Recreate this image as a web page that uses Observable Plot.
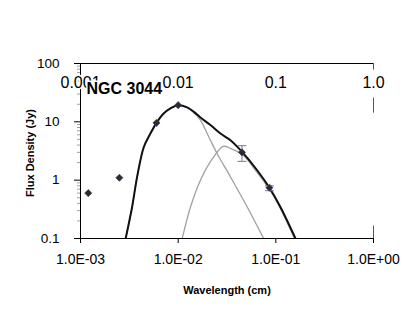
<!DOCTYPE html>
<html><head><meta charset="utf-8">
<script src="https://cdn.jsdelivr.net/npm/d3@7"></script>
<script src="https://cdn.jsdelivr.net/npm/@observablehq/plot@0.6"></script>
<style>body{margin:0;background:#fff}</style>
</head><body><div id="chart"></div>
<script>
const title = "NGC 3044";
const xLabel = "Wavelength (cm)";
const yLabel = "Flux Density (Jy)";
const xTicks = [0.001, 0.01, 0.1, 1];
const xTickLabels = ["1.0E-03", "1.0E-02", "1.0E-01", "1.0E+00"];
const topTickLabels = ["0.001", "0.01", "0.1", "1.0"];
const yTicks = [0.1, 1, 10, 100];
const yTickLabels = ["0.1", "1", "10", "100"];
const yMinor = [0.2,0.3,0.4,0.5,0.6,0.7,0.8,0.9,2,3,4,5,6,7,8,9,20,30,40,50,60,70,80,90];

// observed points
const obsLambda = [0.0012, 0.0025, 0.0060, 0.0100, 0.045, 0.086];
const obsFlux   = [0.60, 1.10, 9.6, 19.3, 3.0, 0.74];
const errLambda = [0.045, 0.086];
const errLow    = [2.1, 0.66];
const errHigh   = [3.9, 0.80];

// total model (black)
const totLambda = [0.0029,0.00338,0.0038,0.00445,0.0052,0.006,0.0071,0.00834,0.01,0.01236,0.0145,0.0169,0.0214,0.0271,0.0343,0.0435,0.0644,0.086,0.111,0.159];
const totFlux   = [0.1,0.35,1.14,3.7,6.3,9.6,13.9,17,19.2,17.7,14.8,11.9,8.8,6.3,4.85,3.27,1.48,0.74,0.35,0.1];
// warm component (gray)
const warmLambda = [0.0029,0.00338,0.0038,0.00445,0.0052,0.006,0.0071,0.00834,0.01,0.01236,0.0145,0.0169,0.0206,0.025,0.0343,0.0508,0.075];
const warmFlux   = [0.1,0.35,1.14,3.7,6.3,9.6,13.9,17,19.2,17.5,14.3,10.7,5.5,2.87,1.14,0.35,0.1];
// cold component (gray)
const coldLambda = [0.011,0.0134,0.0169,0.0231,0.029,0.0343,0.045,0.0644,0.086,0.111,0.155];
const coldFlux   = [0.1,0.35,1.0,2.5,3.8,3.5,2.8,1.35,0.7,0.33,0.1];

// right-edge segments visible in the reference
const rightSeg1 = [77, 14.1, 0.1];
const rightSeg2 = [100, 25.5, 0.163];

const pts = (xs, ys) => xs.map((x, i) => ({x, y: ys[i]}));
const obs = pts(obsLambda, obsFlux);
const err = errLambda.map((x, i) => ({x, lo: errLow[i], hi: errHigh[i]}));
const tot = pts(totLambda, totFlux);
const warm = pts(warmLambda, warmFlux);
const cold = pts(coldLambda, coldFlux);
const rseg = rightSeg1.map((a, i) => ({a, b: rightSeg2[i]}));

const capSymbol = {draw(ctx, size){ const r = Math.sqrt(size); ctx.moveTo(-r,0); ctx.lineTo(r,0);} };

const chart = Plot.plot({
  width: 409, height: 314,
  marginLeft: 80, marginRight: 36, marginTop: 63, marginBottom: 76,
  style: {fontFamily: "'Liberation Sans', Arial, sans-serif", fontSize: "13px", background: "#fff", color: "#000"},
  x: {type: "log", domain: [0.001, 1]},
  y: {type: "log", domain: [0.1, 100]},
  marks: [
    Plot.axisY(yMinor, {tickSize: 3, tickFormat: () => "", stroke: "#888", strokeWidth: 0.8, label: null}),
    Plot.axisY(yTicks, {tickSize: 6, tickPadding: 15, fontSize: 13.5, tickFormat: d => yTickLabels[yTicks.indexOf(d)], label: null}),
    Plot.axisX(xTicks, {tickSize: 5, tickPadding: 11, fontSize: 14, tickFormat: d => xTickLabels[xTicks.indexOf(d)], label: null}),
    Plot.ruleX([0.001], {y1: 0.1, y2: 100, stroke: "#000", strokeWidth: 1}),
    Plot.ruleY([0.1], {x1: 0.001, x2: 1, stroke: "#000", strokeWidth: 1.2}),
    Plot.ruleY([100], {x1: 0.001, x2: 1, stroke: "#000", strokeWidth: 1.2}),
    Plot.ruleX(rseg, {x: () => 1, y1: "a", y2: "b", stroke: "#555", strokeWidth: 1}),
    Plot.line(warm, {x: "x", y: "y", stroke: "#a0a0a0", strokeWidth: 1.3, curve: "catmull-rom", clip: true}),
    Plot.line(cold, {x: "x", y: "y", stroke: "#a0a0a0", strokeWidth: 1.3, curve: "catmull-rom", clip: true}),
    Plot.line(tot, {x: "x", y: "y", stroke: "#111", strokeWidth: 2, curve: "catmull-rom", clip: true}),
    Plot.ruleX(err, {x: "x", y1: "lo", y2: "hi", stroke: "#778", strokeWidth: 1}),
    Plot.dot(err, {x: "x", y: "lo", symbol: capSymbol, r: 2.5, stroke: "#778", strokeWidth: 1}),
    Plot.dot(err, {x: "x", y: "hi", symbol: capSymbol, r: 2.5, stroke: "#778", strokeWidth: 1}),
    Plot.dot(obs, {x: "x", y: "y", symbol: "diamond2", r: 3.2, fill: "#2e2e18", stroke: "#3b3b8a", strokeWidth: 0.8}),
    Plot.text(xTicks, {x: d => d, y: () => 100, text: d => topTickLabels[xTicks.indexOf(d)], dy: 19, fontSize: 16, stroke: "white", strokeWidth: 3, fill: "#000"}),
    Plot.text([title], {frameAnchor: "top-left", text: d => d, dx: 6, dy: 19, textAnchor: "start", fontSize: 16, fontWeight: "bold", stroke: "white", strokeWidth: 3, fill: "#000"}),
    Plot.text([xLabel], {frameAnchor: "bottom", text: d => d, dy: 52, lineAnchor: "middle", fontSize: 11, fontWeight: "bold", fill: "#000"}),
    Plot.text([yLabel], {frameAnchor: "left", text: d => d, dx: -50, dy: 2, rotate: -90, textAnchor: "middle", lineAnchor: "middle", fontSize: 11, fontWeight: "bold", fill: "#000"})
  ]
});
document.getElementById("chart").appendChild(chart);
</script>
</body></html>
